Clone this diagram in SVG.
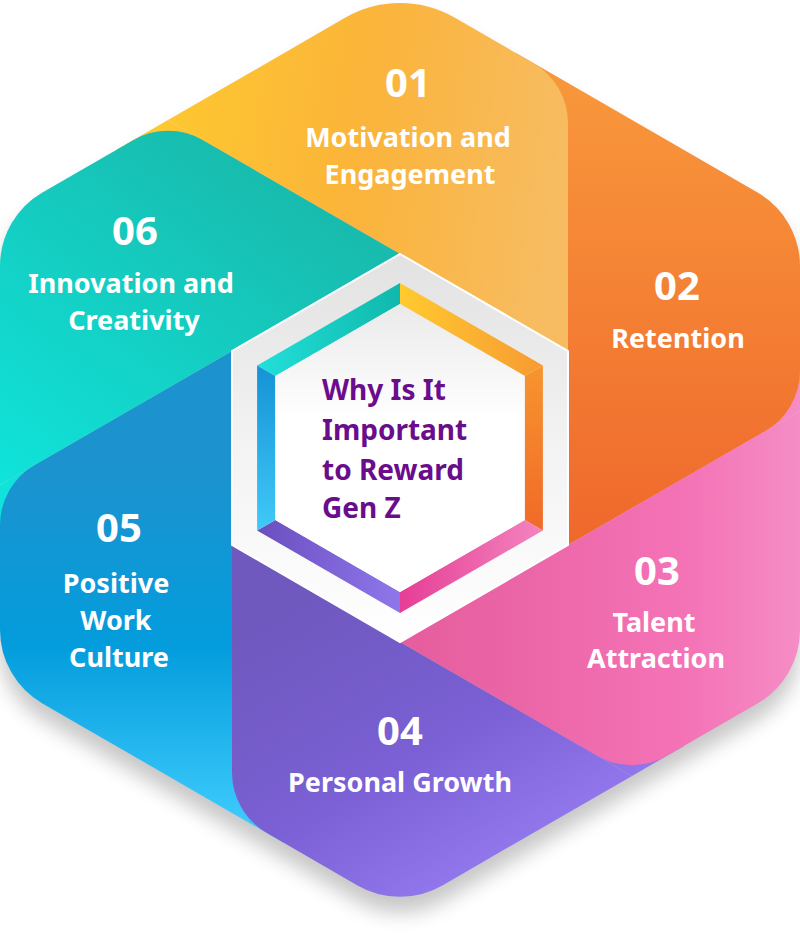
<svg xmlns="http://www.w3.org/2000/svg" width="800" height="942" viewBox="0 0 800 942">
<defs>
<style>
.num{font-family:"Noto Sans","Open Sans",sans-serif;font-weight:700;font-size:40px;fill:#fff;text-anchor:middle}
.lbl{font-family:"Noto Sans","Open Sans",sans-serif;font-weight:700;font-size:27px;fill:#fff;text-anchor:middle}
.ctr{font-family:"Noto Sans","Open Sans",sans-serif;font-weight:700;font-size:28px;fill:#6A0D8D}
</style>
<filter id="blur" x="-20%" y="-20%" width="140%" height="140%"><feGaussianBlur stdDeviation="10"/></filter>
<linearGradient id="gY" gradientUnits="userSpaceOnUse" x1="150" y1="100" x2="568" y2="160"><stop offset="0" stop-color="#FEC92F"/><stop offset="0.5" stop-color="#FBB43A"/><stop offset="1" stop-color="#F7BC62"/></linearGradient>
<linearGradient id="gO" gradientUnits="userSpaceOnUse" x1="0" y1="90" x2="0" y2="545"><stop offset="0" stop-color="#F8963B"/><stop offset="1" stop-color="#EF682C"/></linearGradient>
<linearGradient id="gP" gradientUnits="userSpaceOnUse" x1="420" y1="0" x2="800" y2="0"><stop offset="0" stop-color="#E65E9E"/><stop offset="0.7" stop-color="#F473B6"/><stop offset="1" stop-color="#F58DC6"/></linearGradient>
<linearGradient id="gU" gradientUnits="userSpaceOnUse" x1="300" y1="600" x2="470" y2="900"><stop offset="0" stop-color="#6F58BE"/><stop offset="0.55" stop-color="#7A60D4"/><stop offset="1" stop-color="#957AF0"/></linearGradient>
<linearGradient id="gB" gradientUnits="userSpaceOnUse" x1="0" y1="470" x2="0" y2="820"><stop offset="0" stop-color="#1C93CF"/><stop offset="0.5" stop-color="#039CDC"/><stop offset="1" stop-color="#3CCAFC"/></linearGradient>
<linearGradient id="gT" gradientUnits="userSpaceOnUse" x1="260" y1="160" x2="20" y2="490"><stop offset="0" stop-color="#18BBAD"/><stop offset="1" stop-color="#10E3DA"/></linearGradient>
<linearGradient id="sT" gradientUnits="userSpaceOnUse" x1="257" y1="0" x2="400" y2="0"><stop offset="0" stop-color="#22E0DA"/><stop offset="1" stop-color="#10B8AB"/></linearGradient>
<linearGradient id="sY" gradientUnits="userSpaceOnUse" x1="400" y1="0" x2="543" y2="0"><stop offset="0" stop-color="#FFCA2F"/><stop offset="1" stop-color="#F89A33"/></linearGradient>
<linearGradient id="sO" gradientUnits="userSpaceOnUse" x1="0" y1="365" x2="0" y2="530"><stop offset="0" stop-color="#F7952F"/><stop offset="1" stop-color="#F06A28"/></linearGradient>
<linearGradient id="sP" gradientUnits="userSpaceOnUse" x1="400" y1="0" x2="543" y2="0"><stop offset="0" stop-color="#E63E96"/><stop offset="1" stop-color="#F385BF"/></linearGradient>
<linearGradient id="sU" gradientUnits="userSpaceOnUse" x1="257" y1="0" x2="400" y2="0"><stop offset="0" stop-color="#6A4EC0"/><stop offset="1" stop-color="#8F77EA"/></linearGradient>
<linearGradient id="sB" gradientUnits="userSpaceOnUse" x1="0" y1="365" x2="0" y2="530"><stop offset="0" stop-color="#1492D6"/><stop offset="1" stop-color="#40C9F8"/></linearGradient>
<linearGradient id="gH" gradientUnits="userSpaceOnUse" x1="0" y1="254" x2="0" y2="642"><stop offset="0" stop-color="#E2E2E2"/><stop offset="0.5" stop-color="#F3F3F3"/><stop offset="1" stop-color="#FFFFFF"/></linearGradient>
<linearGradient id="gI" gradientUnits="userSpaceOnUse" x1="0" y1="304" x2="0" y2="592"><stop offset="0" stop-color="#EAEAEA"/><stop offset="0.4" stop-color="#FFFFFF"/><stop offset="1" stop-color="#FFFFFF"/></linearGradient>
</defs>

<g id="shadow" transform="translate(0,16)" filter="url(#blur)" opacity="0.22">
<path fill="#000" d="M357.6,10.5 A85 85 0 0 1 442.4,10.5 L757.6,192.5 A85 85 0 0 1 800,266 L800,630 A85 85 0 0 1 757.6,703.5 L442.4,885.5 A85 85 0 0 1 357.6,885.5 L42.4,703.5 A85 85 0 0 1 0,630 L0,266 A85 85 0 0 1 42.4,192.5 Z"/>
</g>

<g id="gap-fill">
<polygon points="168,120 116,150 220,150" fill="url(#gY)"/>
<polygon points="568,83.1 516,53.1 568,143.1" fill="url(#gO)"/>
<polygon points="800,411 800,351 748,441" fill="url(#gP)"/>
<polygon points="632,775.9 684,745.9 580,745.9" fill="url(#gU)"/>
<polygon points="232,812.9 284,842.9 232,752.9" fill="url(#gB)"/>
<polygon points="0,485 0,545 52,455" fill="url(#gT)"/>
</g>

<g id="node-01">
<path fill="url(#gY)" d="M168,120.1 L345,17.8 A110 110 0 0 1 455,17.8 L533.1,62.9 A70 70 0 0 1 568,123.5 L568,351 Z"/>
<text class="num" x="408" y="97">01</text>
<text class="lbl" x="408" y="147">Motivation and</text>
<text class="lbl" x="410" y="184">Engagement</text>
</g>

<g id="node-02">
<path fill="url(#gO)" d="M568,83.1 L757.6,192.6 A85 85 0 0 1 800,266.1 L800,370.7 A70 70 0 0 1 765.1,431.3 L568,545 Z"/>
<text class="num" x="677" y="300">02</text>
<text class="lbl" x="678" y="348">Retention</text>
</g>

<g id="node-03">
<path fill="url(#gP)" d="M800,411 L800,630 A85 85 0 0 1 757.5,703.5 L666.9,755.8 A70 70 0 0 1 597,755.8 L400,642 Z"/>
<text class="num" x="657" y="585">03</text>
<text class="lbl" x="654" y="632">Talent</text>
<text class="lbl" x="656" y="668">Attraction</text>
</g>

<g id="node-04">
<path fill="url(#gU)" d="M632,775.9 L442.4,885.4 A85 85 0 0 1 357.5,885.4 L266.9,833.1 A70 70 0 0 1 232,772.5 L232,545 Z"/>
<text class="num" x="400" y="745">04</text>
<text class="lbl" x="400" y="792">Personal Growth</text>
</g>

<g id="node-05">
<path fill="url(#gB)" d="M232,812.9 L42.4,703.4 A85 85 0 0 1 0,629.9 L0,525.3 A70 70 0 0 1 34.9,464.7 L232,351 Z"/>
<text class="num" x="119" y="542">05</text>
<text class="lbl" x="116" y="593">Positive</text>
<text class="lbl" x="116" y="630">Work</text>
<text class="lbl" x="119" y="667">Culture</text>
</g>

<g id="node-06">
<path fill="url(#gT)" d="M0,485 L0,266 A85 85 0 0 1 42.4,192.5 L133.1,140.2 A70 70 0 0 1 203,140.2 L400,254 Z"/>
<text class="num" x="135" y="245">06</text>
<text class="lbl" x="131" y="293">Innovation and</text>
<text class="lbl" x="134" y="330">Creativity</text>
</g>

<g id="center">
<polygon points="400,254 568,351 568,545 400,642 232,545 232,351" fill="url(#gH)" stroke="#FFFFFF" stroke-width="2"/>
<polygon points="257.1,365.5 400,283 400,304 275.3,376" fill="url(#sT)"/>
<polygon points="400,283 542.9,365.5 524.7,376 400,304" fill="url(#sY)"/>
<polygon points="542.9,365.5 542.9,530.5 524.7,520 524.7,376" fill="url(#sO)"/>
<polygon points="542.9,530.5 400,613 400,592 524.7,520" fill="url(#sP)"/>
<polygon points="400,613 257.1,530.5 275.3,520 400,592" fill="url(#sU)"/>
<polygon points="257.1,530.5 257.1,365.5 275.3,376 275.3,520" fill="url(#sB)"/>
<polygon points="400,304 524.7,376 524.7,520 400,592 275.3,520 275.3,376" fill="url(#gI)"/>
<text class="ctr" x="322" y="400">Why Is It</text>
<text class="ctr" x="322" y="440">Important</text>
<text class="ctr" x="322" y="480">to Reward</text>
<text class="ctr" x="322" y="518">Gen Z</text>
</g>
</svg>
